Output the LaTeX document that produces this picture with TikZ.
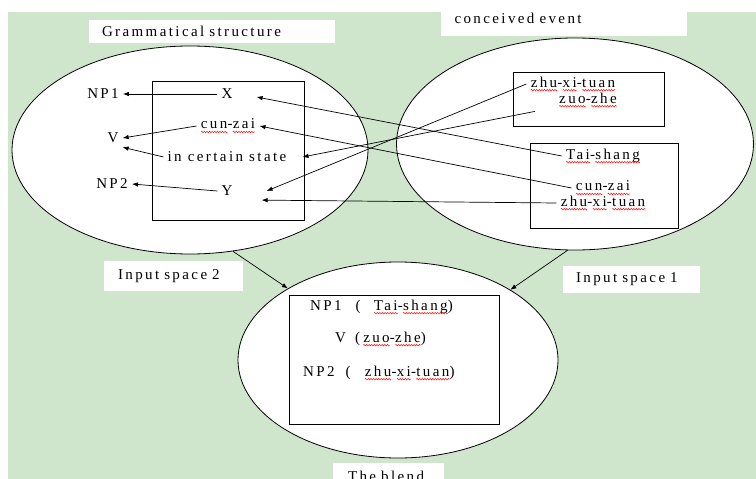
\documentclass[tikz,border=0pt]{standalone}
\usepackage{fontspec}
\setmainfont{Liberation Serif}[LetterSpace=16]
\usepackage{tikz}
\usetikzlibrary{arrows.meta}
\usetikzlibrary{shapes.geometric}
\usetikzlibrary{decorations.pathmorphing}
\newcommand\sq[1]{\tikz[baseline=(w.base)]{\node[inner sep=0pt,outer sep=0pt] (w) {#1};
  \draw[red,line width=.45pt,decorate,decoration={snake,amplitude=.8pt,segment length=2.6pt}]
    ([yshift=-3pt]w.base west) -- ([yshift=-3pt]w.base east);}}
\definecolor{bggreen}{RGB}{207,229,204}
\tikzstyle{space}=[draw,ellipse,fill=white,line width=.8pt,inner sep=0pt]
\tikzstyle{lbl}=[fill=white,inner ysep=0pt,align=left]
\tikzstyle{box}=[line width=.9pt]
\tikzstyle{word}=[inner sep=4pt]
\tikzstyle{map}=[line width=.7pt,-{Latex[length=6pt,width=4.5pt]}]

\begin{document}
\begin{tikzpicture}[x=1pt,y=-1pt,font=\fontsize{15}{17}\selectfont]
	\useasboundingbox (0,0) rectangle (756,479);
	\fill[bggreen] (8,12) rectangle (756,479);
	% the three spaces
	\node[space,minimum width=356pt,minimum height=208pt] (in2) at (190,150) {};
	\node[space,minimum width=357pt,minimum height=212pt] (in1) at (575,144) {};
	\node[space,minimum width=320pt,minimum height=196pt] (blend) at (398,360) {};
	\draw[box] (152,81) rectangle (304,220);
	\draw[box] (513,72) rectangle (664,126);
	\draw[box] (530,143) rectangle (678,228);
	\draw[box] (289,295) rectangle (499,424);
	% labels
	\node[lbl,minimum height=23pt,text width=220pt,inner xsep=13pt] (gram) at (212,31.5) {Grammatical structure};
	\node[lbl,minimum height=36pt,text width=218pt,inner xsep=14pt] (conc) at (563.5,18) {conceived event};
	\node[lbl,minimum height=30pt,text width=111pt,inner xsep=14pt] (lin2) at (173.5,276) {Input space 2};
	\node[lbl,minimum height=27pt,text width=111pt,inner xsep=13pt] (lin1) at (631.5,279.5) {Input space 1};
	\node[lbl,minimum height=26pt,text width=81pt,inner xsep=15pt] (lbl) at (388.5,476) {The blend};
	% input space 2
	\node[word] (np1) at (103,94) {NP1};
	\node[word] (x) at (227,94) {X};
	\node[word] (cunL) at (228,126) {\sq{cun}-\sq{zai}};
	\node[word] (v) at (113,138) {V};
	\node[word] (state) at (227,157) {in certain state};
	\node[word] (np2) at (112,184) {NP2};
	\node[word] (y) at (227,191) {Y};
	% input space 1
	\node[word] (zhuA) at (573,84) {\sq{zhu}-\sq{xi}-\sq{tuan}};
	\node[word] (zuo) at (588,100) {\sq{zuo}-\sq{zhe}};
	\node[word] (tai) at (603,156) {\sq{Tai}-\sq{shang}};
	\node[word] (cunR) at (603,188) {\sq{cun}-\sq{zai}};
	\node[word] (zhuB) at (603,203) {\sq{zhu}-\sq{xi}-\sq{tuan}};
	% the blend
	\node[word,anchor=west,inner sep=0pt] (b1) at (310,307) {NP1\hspace{14pt}(\hspace{13pt}\sq{Tai}-\sq{shang})};
	\node[word,anchor=west,inner sep=0pt] (b2) at (335,339) {V\hspace{9pt}(\hspace{3pt}\sq{zuo}-\sq{zhe})};
	\node[word,anchor=west,inner sep=0pt] (b3) at (303,373) {NP2\hspace{11pt}(\hspace{14pt}\sq{zhu}-\sq{xi}-\sq{tuan})};
	% mappings
	\draw[map] (x.west) -- (np1.east);
	\draw[map] (cunL.west) -- (v.east);
	\draw[map] (state.west) -- (v.south east);
	\draw[map] (y.west) -- (np2.east);
	\draw[map] (tai.west) -- ([xshift=20pt,yshift=-3pt]x.east);
	\draw[map] (cunR.west) -- (cunL.east);
	\draw[map] ([xshift=-20pt]zuo.south west) -- ([xshift=12pt]state.east);
	\draw[map] (zhuA.west) -- ([xshift=30pt]y.east);
	\draw[map] (zhuB.west) -- ([xshift=25pt]y.south east);
	\draw[map] (in2.293) -- (blend.147);
	\draw[map] (in1.266) -- (blend.32);
\end{tikzpicture}
\end{document}
